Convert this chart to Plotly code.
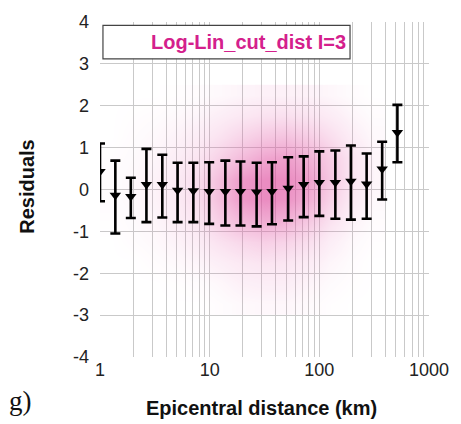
import plotly.graph_objects as go

# Binned residual statistics: distance bin centres (km), mean and +/- 1 sigma bounds
dist_km = [1.0, 1.38, 1.91, 2.65, 3.7, 5.1, 7.1, 9.9, 13.9, 19.1,
           26.8, 37.0, 52.0, 72.0, 100.0, 140.0, 194.0, 270.0, 374.0, 515.0]
mean_res = [0.43, -0.14, -0.17, 0.12, 0.12, -0.02, -0.03, -0.05, -0.05, -0.05,
            -0.06, -0.05, 0.03, 0.12, 0.17, 0.17, 0.20, 0.13, 0.49, 1.36]
upper_res = [1.10, 0.69, 0.28, 0.97, 0.83, 0.64, 0.64, 0.65, 0.69, 0.67,
             0.64, 0.65, 0.77, 0.79, 0.91, 0.93, 1.05, 0.86, 1.14, 2.02]
lower_res = [-0.28, -1.05, -0.68, -0.78, -0.67, -0.78, -0.78, -0.82, -0.86, -0.86,
             -0.88, -0.83, -0.74, -0.66, -0.63, -0.70, -0.72, -0.70, -0.24, 0.65]

# Relative density of individual residuals (rows: residual, cols: log10 distance)
cloud_logd = [0.1, 0.3, 0.5, 0.7, 0.9, 1.1, 1.3, 1.5, 1.7, 1.9, 2.1, 2.3, 2.5]
cloud_res = [-2.75, -2.25, -1.75, -1.25, -0.75, -0.25, 0.25, 0.75, 1.25, 1.75, 2.25]
cloud_density = [
    [0, 0, 0, 0, 0, 0.02, 0.04, 0.05, 0.05, 0.03, 0.01, 0, 0],
    [0, 0, 0, 0.01, 0.02, 0.05, 0.10, 0.12, 0.12, 0.07, 0.03, 0.01, 0],
    [0, 0, 0.02, 0.04, 0.07, 0.12, 0.18, 0.22, 0.20, 0.14, 0.06, 0.02, 0],
    [0, 0.02, 0.04, 0.08, 0.14, 0.25, 0.35, 0.42, 0.38, 0.28, 0.12, 0.04, 0.01],
    [0.01, 0.03, 0.06, 0.12, 0.22, 0.45, 0.65, 0.75, 0.70, 0.50, 0.25, 0.08, 0.02],
    [0.02, 0.04, 0.08, 0.15, 0.30, 0.60, 0.90, 1.00, 0.95, 0.75, 0.40, 0.15, 0.04],
    [0.02, 0.04, 0.08, 0.15, 0.30, 0.60, 0.90, 1.00, 1.00, 0.85, 0.50, 0.20, 0.06],
    [0.01, 0.03, 0.06, 0.12, 0.22, 0.42, 0.62, 0.80, 0.85, 0.70, 0.45, 0.20, 0.06],
    [0, 0.02, 0.04, 0.08, 0.14, 0.24, 0.38, 0.50, 0.55, 0.45, 0.28, 0.12, 0.04],
    [0, 0.01, 0.02, 0.04, 0.07, 0.12, 0.18, 0.24, 0.26, 0.22, 0.14, 0.06, 0.02],
    [0, 0, 0, 0.01, 0.02, 0.04, 0.07, 0.09, 0.09, 0.08, 0.05, 0.02, 0],
]

x_ticks = [1, 10, 100, 1000]
x_minor = [m * d for d in (1, 10, 100) for m in range(2, 10)]
y_ticks = [-4, -3, -2, -1, 0, 1, 2, 3, 4]
y_ticktext = ["-4", "-3", "-2", "-1", "0", "1", "2", "3", "4"]
legend_text = "Log-Lin_cut_dist I=3"

err_plus = [u - m for u, m in zip(upper_res, mean_res)]
err_minus = [m - l for m, l in zip(mean_res, lower_res)]

fig = go.Figure()

fig.add_trace(go.Heatmap(
    x=[10 ** v for v in cloud_logd],
    y=cloud_res,
    z=cloud_density,
    zmin=0, zmax=1,
    zsmooth="best",
    showscale=False,
    hoverinfo="skip",
    colorscale=[[0.0, "rgba(230,90,170,0)"],
                [0.1, "rgba(230,100,175,0.10)"],
                [0.5, "rgba(228,95,170,0.35)"],
                [1.0, "rgba(222,70,155,0.62)"]],
))

fig.add_trace(go.Scatter(
    x=dist_km, y=mean_res,
    mode="markers",
    marker=dict(symbol="triangle-down", size=10, color="black"),
    error_y=dict(type="data", symmetric=False, array=err_plus, arrayminus=err_minus,
                 color="black", thickness=2.6, width=5),
    showlegend=False,
))

grid_col = "#c9c9c9"
tick_font = dict(family="Liberation Sans, Arial, sans-serif", size=18, color="#222")

fig.update_xaxes(
    type="log", range=[0, 3],
    tickvals=x_ticks, ticktext=[str(v) for v in x_ticks],
    showgrid=True, gridcolor=grid_col, gridwidth=1,
    minor=dict(tickvals=x_minor, showgrid=True, gridcolor=grid_col, gridwidth=1, ticklen=0),
    zeroline=False, showline=False, ticks="",
    tickfont=tick_font,
)
fig.update_yaxes(
    range=[-4, 4], tickvals=y_ticks, ticktext=y_ticktext,
    showgrid=True, gridcolor=grid_col, gridwidth=1,
    zeroline=False, showline=False, ticks="",
    tickfont=tick_font, ticklabelstandoff=10,
)

# Legend box
fig.add_shape(type="rect", xref="paper", yref="paper",
              x0=0.009, x1=0.76, y0=0.89, y1=0.99,
              fillcolor="white", line=dict(color="#444", width=1.2), layer="above")
fig.add_annotation(text="<b>" + legend_text + "</b>", xref="paper", yref="paper",
                   x=0.755, y=0.94, xanchor="right", yanchor="middle", showarrow=False,
                   font=dict(family="Liberation Sans, Arial, sans-serif", size=20, color="#d4208c"))

title_font = dict(family="Liberation Sans, Arial, sans-serif", size=20, color="#111")
fig.add_annotation(text="<b>Residuals</b>", xref="paper", yref="paper",
                   x=-0.222, y=0.508, textangle=-90, showarrow=False,
                   xanchor="center", yanchor="middle", font=title_font)
fig.add_annotation(text="<b>Epicentral distance (km)</b>", x=0.492, y=-0.152,
                   xref="paper", yref="paper", showarrow=False,
                   xanchor="center", yanchor="middle", font=title_font)
fig.add_annotation(text="g)", x=-0.282, y=-0.13, xref="paper", yref="paper",
                   showarrow=False, xanchor="left", yanchor="middle",
                   font=dict(family="Liberation Serif, Times New Roman, serif", size=27, color="#111"))

fig.update_layout(
    width=461, height=424,
    margin=dict(l=100, r=23, t=21, b=67),
    paper_bgcolor="white", plot_bgcolor="white",
    showlegend=False,
)

fig.write_html("out.html")
